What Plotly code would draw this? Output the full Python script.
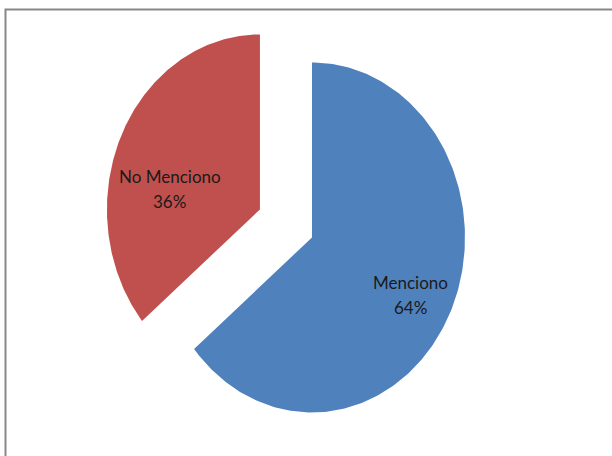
import numpy as np
import plotly.graph_objects as go

# Survey answer shares
categories = ["Menciono", "No Menciono"]
values = [64, 36]
colors = ["#4F81BD", "#C0504D"]

# Pie geometry (axis units): radius 1, each slice pulled out along its bisector
PULL = 0.188
# Label placement per slice: (angle clockwise from 12 o'clock, distance from slice tip)
LABEL_POS = {"Menciono": (117.0, 0.72), "No Menciono": (281.0, 0.60)}

total = float(sum(values))
fig = go.Figure()

start = 0.0
annotations = []
for name, val, col in zip(categories, values, colors):
    sweep = 360.0 * val / total
    end = start + sweep
    mid = np.radians(start + sweep / 2)
    ox, oy = PULL * np.sin(mid), PULL * np.cos(mid)
    th = np.radians(np.linspace(start, end, 240))
    xs = np.concatenate([[ox], ox + np.sin(th), [ox]])
    ys = np.concatenate([[oy], oy + np.cos(th), [oy]])
    fig.add_trace(go.Scatter(
        x=xs, y=ys, mode="lines", fill="toself", fillcolor=col,
        line=dict(width=0, color=col), hoverinfo="skip", name=name,
        showlegend=False,
    ))
    ang, dist = LABEL_POS[name]
    a = np.radians(ang)
    lx, ly = ox + dist * np.sin(a), oy + dist * np.cos(a)
    pct = f"{val / total * 100:.0f}%"
    for txt, shift in ((name, 12.5), (pct, -12.5)):
        annotations.append(dict(
            x=lx, y=ly, xref="x", yref="y", text=txt, showarrow=False,
            yshift=shift, font=dict(family="Lato", size=17, color="#1a1a1a"),
        ))
    start = end

fig.update_layout(
    width=612, height=456,
    margin=dict(l=0, r=0, t=0, b=0),
    paper_bgcolor="white", plot_bgcolor="white",
    xaxis=dict(range=[-1.869, 2.131], visible=False, fixedrange=True),
    yaxis=dict(range=[-1.329, 1.277], visible=False, fixedrange=True),
    annotations=annotations,
    shapes=[dict(
        type="rect", xref="paper", yref="paper",
        x0=5.5 / 612, x1=1.05, y0=-0.05, y1=1 - 9.5 / 456,
        line=dict(color="#878787", width=2),
    )],
)

fig.write_html("out.html")
